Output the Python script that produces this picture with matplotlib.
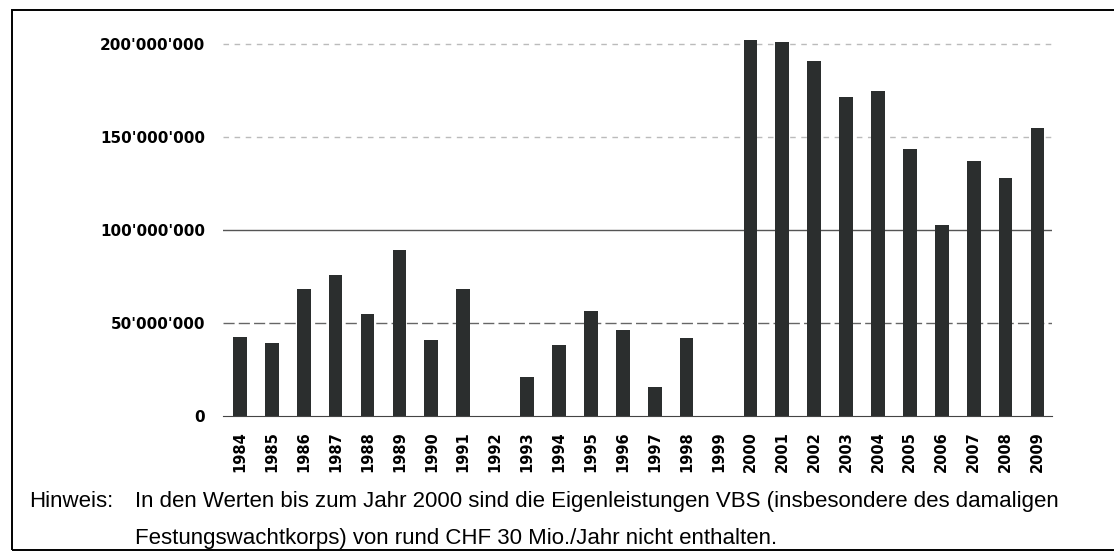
import matplotlib.pyplot as plt
from matplotlib.patches import Rectangle

# Daten (CHF pro Jahr)
jahre = [str(j) for j in range(1984, 2010)]
werte = [42.5e6, 39e6, 68e6, 76e6, 55e6, 89e6, 41e6, 68e6, 0, 21e6,
         38e6, 56.5e6, 46e6, 15.5e6, 42e6, 0, 202e6, 201e6, 191e6, 171.5e6,
         175e6, 143.5e6, 102.5e6, 137e6, 128e6, 155e6]
y_ticks = [0, 50e6, 100e6, 150e6, 200e6]
y_labels = ["0", "50'000'000", "100'000'000", "150'000'000", "200'000'000"]

fig = plt.figure(figsize=(11.14, 5.53), dpi=100)
ax = fig.add_axes([0.2002, 0.248, 0.744, 0.689])

x = list(range(len(jahre)))
ax.bar(x, werte, width=0.43, color="#2b2e2e", zorder=3)

# Gitterlinien
for y, c, ls in [(50e6, "#666666", (0, (8, 3))), (100e6, "#555555", "-"),
                 (150e6, "#bbbbbb", (0, (4, 4))), (200e6, "#bbbbbb", (0, (4, 4)))]:
    ax.axhline(y, color=c, lw=1, ls=ls, zorder=1)

ax.set_xlim(-0.53, 25.45)
ax.set_ylim(0, 205e6)
ax.set_xticks(x)
ax.set_xticklabels(jahre, rotation=90, fontsize=10.5, fontweight="bold")
ax.set_yticks(y_ticks)
ax.set_yticklabels(y_labels, fontsize=11, fontweight="bold")
ax.tick_params(length=0)
ax.tick_params(axis="x", pad=11)
ax.tick_params(axis="y", pad=13)
for s in ["top", "right", "left"]:
    ax.spines[s].set_visible(False)
ax.spines["bottom"].set_color("#444444")
ax.spines["bottom"].set_zorder(4)

# Hinweis
fs = 16
fig.text(0.026, 0.094, "Hinweis:", fontsize=fs, family="Liberation Sans", va="center")
fig.text(0.121, 0.094, "In den Werten bis zum Jahr 2000 sind die Eigenleistungen VBS "
         "(insbesondere des damaligen", fontsize=fs, family="Liberation Sans", va="center")
fig.text(0.121, 0.026, "Festungswachtkorps) von rund CHF 30 Mio./Jahr nicht enthalten.",
         fontsize=fs, family="Liberation Sans", va="center")

# Rahmen (rechts ausserhalb des Bildes)
fig.patches.append(Rectangle((0.011, 0.005), 1.1, 0.977, transform=fig.transFigure,
                             fill=False, edgecolor="black", lw=1.4))

fig.savefig("out.png", dpi=100)
